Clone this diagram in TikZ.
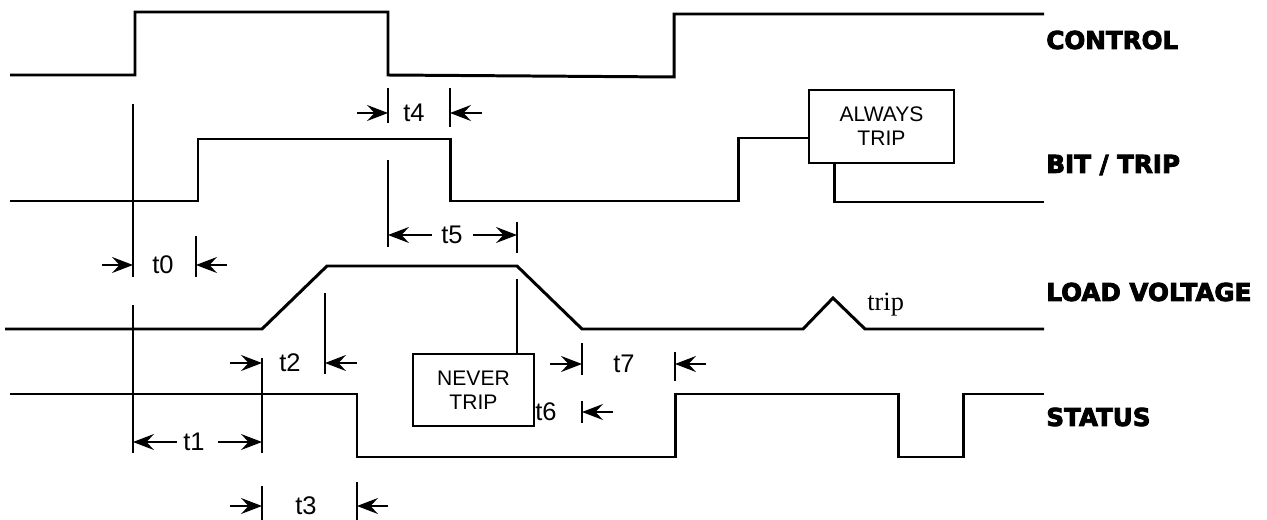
\documentclass[tikz,border=0pt]{standalone}
\usepackage{fontspec}
\setmainfont{Liberation Sans}
\newfontfamily\heavyfont{DejaVu Sans}[BoldFeatures={FakeBold=3.5}]
\newfontfamily\tripfont{Liberation Serif}
\usetikzlibrary{arrows.meta}

\tikzset{
	sig/.style={line width=1.7pt, line join=miter},
	guide/.style={line width=0.7pt},
	dim/.style={line width=0.7pt, -{Stealth[length=4.2mm, width=3.2mm, inset=1.5mm]}},
	tlabel/.style={inner sep=0pt, font=\fontsize{14.5}{16}\selectfont},
	tracename/.style={anchor=west, inner sep=0pt, font=\heavyfont\bfseries\fontsize{14}{16}\selectfont},
	note/.style={draw, line width=1.1pt, align=center, inner sep=0pt, font=\fontsize{12}{13.5}\selectfont},
}

\begin{document}
\begin{tikzpicture}[x=0.02cm, y=-0.02cm]
		% Paths, nodes and wires:
		\useasboundingbox (0,0) rectangle (1267,520);
		\node[tracename](lctl) at (1046,40){CONTROL};
		\node[tracename](lbit) at (1046,165){BIT / TRIP};
		\node[tracename](lload) at (1046,292){LOAD VOLTAGE};
		\node[tracename](lstat) at (1046,417){STATUS};
		\node[note, minimum width=2.9cm, minimum height=1.46cm](abox) at (881.5,126.5){ALWAYS\\TRIP};
		\node[note, minimum width=2.42cm, minimum height=1.44cm](nbox) at (473.5,390){NEVER\\TRIP};
		\node[anchor=west, inner sep=0pt, font=\tripfont\fontsize{15}{17}\selectfont](trip) at (867,305){trip};
		\coordinate (bhi) at (738,138);
		\coordinate (bdrop) at (834,202);
		\coordinate (nleg) at (517,279);
		\draw[sig] (10,75) -- (135,75) -- (135,12) -- (388,12) -- (388,75) -- (674,77) -- (674,14) -- (1044,14);
		\draw[sig] (10,201) -| (198,139) -| (450,201) -| (bhi) -- (bhi -| abox.west);
		\draw[sig] (bdrop |- abox.south) |- (1044,202);
		\draw[sig] (5,329) -- (262,329) -- (327,266) -- (517,266) -- (582,329) -- (803,329) -- (833,298) -- (865,329) -- (1044,329);
		\draw[sig] (10,394) -| (357,457) -| (675,394) -| (898,457) -| (963,394) -- (1044,394);
		\draw[guide] (133,104) -- (133,277);
		\draw[guide] (133,305) -- (133,453);
		\draw[guide] (196,236) -- (196,277);
		\draw[guide] (262,358) -- (262,453);
		\draw[guide] (262,486) -- (262,520);
		\draw[guide] (325,293) -- (325,374);
		\draw[guide] (357,482) -- (357,520);
		\draw[guide] (388,88) -- (388,123);
		\draw[guide] (388,160) -- (388,247);
		\draw[guide] (450,88) -- (450,127);
		\draw[guide] (517,222) -- (517,253);
		\draw[guide] (nleg) -- (nleg |- nbox.north);
		\draw[guide] (582,343) -- (582,375);
		\draw[guide] (582,401) -- (582,423);
		\draw[guide] (675,352) -- (675,381);
		\node[tlabel](t0) at (163,265){t0};
		\draw[dim] (102,265) -- (133,265);
		\draw[dim] (227,265) -- (196,265);
		\node[tlabel](t1) at (194,442){t1};
		\draw[dim] (177,442) -- (133,442);
		\draw[dim] (218,442) -- (262,442);
		\node[tlabel](t2) at (290,363){t2};
		\draw[dim] (230,363) -- (262,363);
		\draw[dim] (357,363) -- (325,363);
		\node[tlabel](t3) at (306,506){t3};
		\draw[dim] (230,506) -- (262,506);
		\draw[dim] (388,506) -- (357,506);
		\node[tlabel](t4) at (414,113){t4};
		\draw[dim] (357,113) -- (388,113);
		\draw[dim] (482,113) -- (450,113);
		\node[tlabel](t5) at (452,235){t5};
		\draw[dim] (432,235) -- (388,235);
		\draw[dim] (473,235) -- (517,235);
		\node[tlabel, anchor=west](t6) at (535,412){t6};
		\draw[dim] (613,412) -- (582,412);
		\node[tlabel](t7) at (624,364){t7};
		\draw[dim] (550,364) -- (582,364);
		\draw[dim] (706,364) -- (675,364);
	\end{tikzpicture}
\end{document}
